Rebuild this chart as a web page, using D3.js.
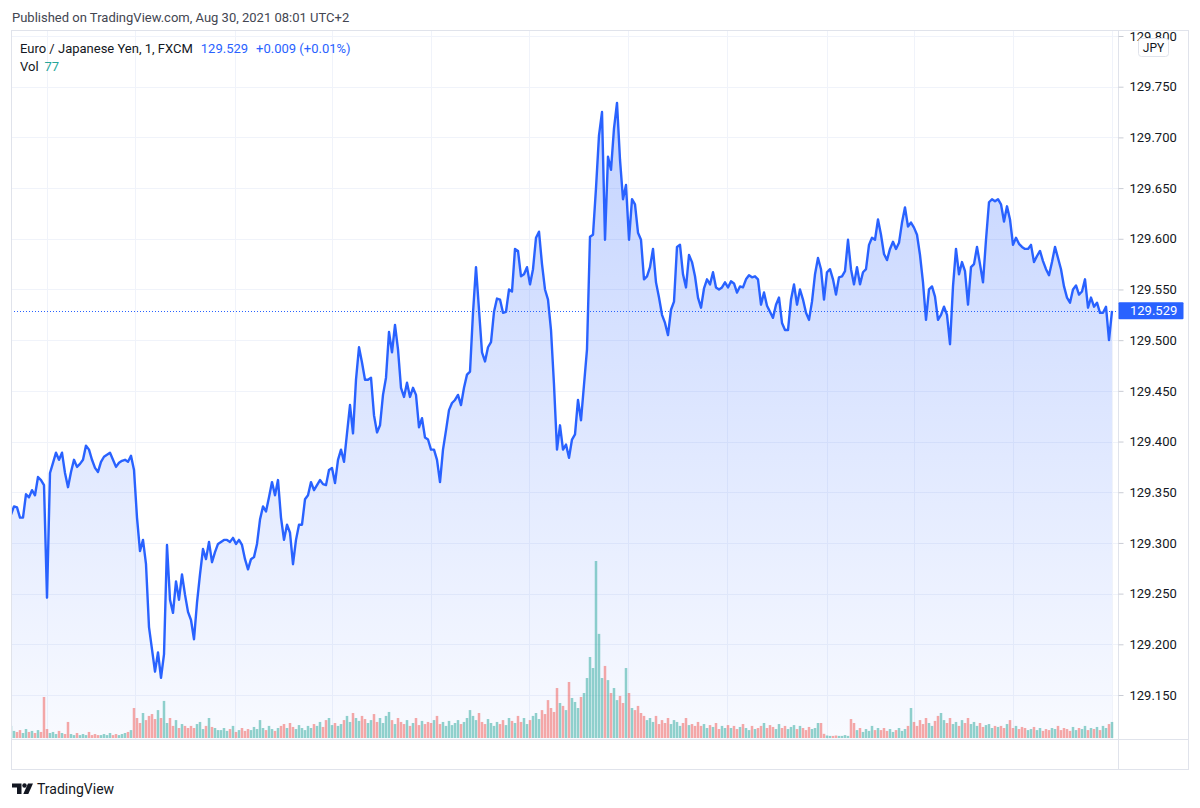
<!DOCTYPE html>
<html>
<head>
<meta charset="utf-8">
<script src="https://cdn.jsdelivr.net/npm/d3@7/dist/d3.min.js"></script>
<style>
  body { margin: 0; background: #fff; }
  svg text { font-family: "Trebuchet MS", Roboto, "Noto Sans", sans-serif; }
</style>
</head>
<body>
<div class="canvas"></div>
<script>
// EUR/JPY 1-minute closes, FXCM, sampled along the chart (one value per ~5.5 bars)
var price = [
  129.328, 129.336, 129.335, 129.325, 129.325, 129.348, 129.345, 129.352, 129.347, 129.365, 129.362, 129.357,
  129.246, 129.369, 129.379, 129.389, 129.382, 129.389, 129.369, 129.355, 129.370, 129.382, 129.375, 129.378,
  129.382, 129.396, 129.392, 129.382, 129.374, 129.370, 129.380, 129.385, 129.387, 129.389, 129.382, 129.375,
  129.379, 129.381, 129.382, 129.380, 129.386, 129.372, 129.325, 129.292, 129.303, 129.279, 129.217, 129.195,
  129.173, 129.192, 129.167, 129.190, 129.298, 129.244, 129.231, 129.262, 129.244, 129.269, 129.249, 129.232,
  129.224, 129.205, 129.241, 129.269, 129.294, 129.284, 129.301, 129.281, 129.291, 129.299, 129.301, 129.303,
  129.303, 129.301, 129.305, 129.299, 129.303, 129.298, 129.284, 129.274, 129.284, 129.286, 129.299, 129.323,
  129.336, 129.331, 129.345, 129.360, 129.347, 129.362, 129.325, 129.303, 129.318, 129.310, 129.279, 129.303,
  129.318, 129.318, 129.343, 129.347, 129.360, 129.352, 129.357, 129.362, 129.358, 129.357, 129.372, 129.374,
  129.359, 129.382, 129.392, 129.380, 129.408, 129.436, 129.408, 129.461, 129.493, 129.478, 129.461, 129.461,
  129.463, 129.426, 129.409, 129.416, 129.446, 129.463, 129.508, 129.488, 129.515, 129.491, 129.453, 129.444,
  129.458, 129.444, 129.453, 129.446, 129.414, 129.423, 129.404, 129.402, 129.392, 129.392, 129.382, 129.360,
  129.392, 129.411, 129.431, 129.438, 129.441, 129.446, 129.436, 129.453, 129.466, 129.469, 129.527, 129.572,
  129.530, 129.488, 129.479, 129.493, 129.498, 129.528, 129.541, 129.540, 129.527, 129.528, 129.550, 129.548,
  129.590, 129.588, 129.563, 129.565, 129.572, 129.555, 129.570, 129.601, 129.607, 129.575, 129.550, 129.540,
  129.510, 129.456, 129.392, 129.416, 129.392, 129.397, 129.384, 129.402, 129.407, 129.441, 129.421, 129.456,
  129.491, 129.602, 129.604, 129.650, 129.702, 129.725, 129.599, 129.681, 129.668, 129.709, 129.734, 129.678,
  129.639, 129.653, 129.599, 129.639, 129.634, 129.606, 129.599, 129.560, 129.563, 129.572, 129.590, 129.557,
  129.542, 129.525, 129.517, 129.505, 129.530, 129.538, 129.592, 129.594, 129.565, 129.552, 129.584, 129.577,
  129.563, 129.542, 129.532, 129.551, 129.560, 129.555, 129.567, 129.552, 129.550, 129.552, 129.557, 129.552,
  129.558, 129.556, 129.547, 129.553, 129.552, 129.560, 129.564, 129.562, 129.563, 129.560, 129.535, 129.547,
  129.534, 129.528, 129.522, 129.535, 129.542, 129.517, 129.510, 129.510, 129.540, 129.555, 129.535, 129.550,
  129.540, 129.527, 129.520, 129.538, 129.565, 129.581, 129.570, 129.540, 129.567, 129.570, 129.560, 129.545,
  129.562, 129.563, 129.568, 129.599, 129.570, 129.555, 129.572, 129.555, 129.567, 129.570, 129.594, 129.601,
  129.599, 129.619, 129.604, 129.585, 129.579, 129.590, 129.597, 129.590, 129.596, 129.616, 129.631, 129.612,
  129.616, 129.611, 129.604, 129.584, 129.557, 129.520, 129.550, 129.553, 129.543, 129.520, 129.525, 129.533,
  129.525, 129.496, 129.553, 129.590, 129.565, 129.577, 129.568, 129.535, 129.572, 129.575, 129.592, 129.575,
  129.557, 129.599, 129.636, 129.639, 129.637, 129.639, 129.634, 129.617, 129.632, 129.619, 129.594, 129.601,
  129.595, 129.592, 129.590, 129.590, 129.594, 129.577, 129.583, 129.588, 129.578, 129.570, 129.564, 129.577,
  129.592, 129.581, 129.570, 129.553, 129.542, 129.537, 129.550, 129.554, 129.545, 129.548, 129.560, 129.532,
  129.542, 129.533, 129.537, 129.527, 129.527, 129.533, 129.500, 129.529
];

var volume = [
  58, 34, 29, 38, 24, 43, 29, 34, 24, 38,
  29, 197, 43, 24, 29, 19, 34, 24, 19, 77,
  19, 14, 24, 14, 19, 14, 29, 14, 19, 14,
  14, 19, 14, 24, 14, 19, 14, 19, 24, 29,
  38, 144, 96, 72, 120, 86, 106, 115, 91, 134,
  96, 178, 72, 96, 58, 86, 48, 67, 58, 48,
  58, 48, 67, 77, 43, 58, 96, 53, 48, 38,
  38, 48, 34, 43, 58, 29, 38, 48, 34, 43,
  38, 53, 43, 86, 48, 38, 58, 43, 34, 48,
  58, 67, 48, 72, 53, 43, 62, 48, 38, 58,
  48, 67, 58, 77, 53, 86, 96, 62, 72, 58,
  67, 86, 106, 77, 120, 96, 82, 106, 91, 72,
  86, 115, 77, 96, 72, 106, 125, 86, 67, 96,
  77, 67, 86, 58, 72, 96, 62, 82, 67, 77,
  72, 86, 106, 67, 77, 58, 82, 62, 72, 86,
  67, 77, 96, 134, 106, 86, 120, 77, 67, 91,
  72, 58, 77, 67, 86, 62, 96, 82, 72, 106,
  77, 96, 67, 86, 106, 120, 91, 134, 115, 182,
  144, 125, 240, 168, 154, 134, 269, 192, 173, 144,
  197, 216, 288, 389, 336, 850, 500, 288, 346, 278,
  216, 240, 182, 202, 168, 336, 216, 144, 134, 154,
  120, 106, 86, 96, 77, 106, 67, 86, 72, 96,
  67, 86, 77, 58, 72, 96, 62, 67, 58, 77,
  58, 67, 48, 62, 53, 72, 43, 58, 48, 62,
  48, 58, 43, 53, 67, 48, 38, 58, 43, 48,
  58, 72, 48, 62, 53, 43, 67, 48, 58, 43,
  53, 62, 43, 58, 48, 38, 53, 43, 48, 72,
  72, 20, 12, 10, 10, 12, 10, 10, 14, 10,
  91, 72, 38, 48, 29, 43, 34, 58, 38, 48,
  38, 48, 34, 43, 29, 38, 48, 34, 43, 58,
  144, 77, 58, 86, 67, 96, 72, 58, 82, 106,
  120, 86, 72, 96, 67, 77, 58, 86, 72, 96,
  67, 77, 58, 72, 53, 62, 67, 48, 58, 53,
  58, 48, 67, 86, 48, 58, 43, 53, 48, 38,
  43, 53, 38, 48, 34, 43, 38, 48, 43, 58,
  38, 48, 43, 34, 53, 38, 48, 43, 58, 38,
  48, 43, 53, 38, 58, 48, 67, 77
];

// time scale labels and the sample they sit on
var timeLabels = ["21:00", "27", "03:00", "06:00", "09:00", "12:00", "15:00", "18:00", "29", "30", "03:00", "06:00"];
var timeTickAt = [11.9, 41.3, 74.7, 106.9, 139.9, 172.8, 205.8, 238.8, 271.9, 301.0, 333.9, 366.9];

var priceTicks = [129.15, 129.2, 129.25, 129.3, 129.35, 129.4, 129.45, 129.5, 129.55, 129.6, 129.65, 129.7, 129.75, 129.8];

var lastPrice = 129.529, change = "+0.009 (+0.01%)", lastVol = 77;

var W = 1200, H = 808;
var paneL = 11, paneR = 1118, paneT = 30, paneB = 739, frameR = 1188, frameB = 769;

var svg = d3.select(".canvas").append("svg").attr("width", W).attr("height", H);

var x = d3.scaleLinear().domain([0, price.length - 1]).range([11, 1112]);
var y = d3.scaleLinear().domain([129.15, 129.75]).range([695, 86.7]);
var vy = d3.scaleLinear().domain([0, d3.max(volume)]).range([738, 561]);

var defs = svg.append("defs");
defs.append("clipPath").attr("id", "pane")
  .append("rect").attr("x", paneL).attr("y", paneT).attr("width", paneR - paneL).attr("height", paneB - paneT);
defs.append("clipPath").attr("id", "timeaxis")
  .append("rect").attr("x", paneL).attr("y", paneB).attr("width", paneR - paneL).attr("height", frameB - paneB);
var grad = defs.append("linearGradient").attr("id", "areaFill")
  .attr("gradientUnits", "userSpaceOnUse").attr("x1", 0).attr("x2", 0).attr("y1", 100).attr("y2", paneB);
grad.append("stop").attr("offset", 0).attr("stop-color", "#2962ff").attr("stop-opacity", 0.28);
grad.append("stop").attr("offset", 1).attr("stop-color", "#2962ff").attr("stop-opacity", 0.03);

// header
svg.append("text").attr("x", 12).attr("y", 17).attr("dy", "0.35em")
  .style("font-size", "13px").style("fill", "#434651")
  .text("Published on TradingView.com, Aug 30, 2021 08:01 UTC+2");

// grid
var plot = svg.append("g").attr("clip-path", "url(#pane)");
plot.append("g").selectAll("line").data(priceTicks).enter().append("line")
  .attr("x1", paneL).attr("x2", paneR)
  .attr("y1", function(d) { return Math.round(y(d)) + 0.5; })
  .attr("y2", function(d) { return Math.round(y(d)) + 0.5; })
  .style("stroke", "#f0f3fa");
plot.append("g").selectAll("line").data(timeTickAt).enter().append("line")
  .attr("x1", function(d) { return Math.round(x(d)) + 0.5; })
  .attr("x2", function(d) { return Math.round(x(d)) + 0.5; })
  .attr("y1", paneT).attr("y2", paneB)
  .style("stroke", "#f0f3fa");

// area
var area = d3.area()
  .x(function(d, i) { return x(i); })
  .y0(paneB)
  .y1(function(d) { return y(d); });
plot.append("path").datum(price).attr("d", area).style("fill", "url(#areaFill)");

// volume
plot.append("g").selectAll("rect").data(volume).enter().append("rect")
  .attr("x", function(d, i) { return x(i) - 1.25; })
  .attr("width", 2.5)
  .attr("y", function(d) { return vy(d); })
  .attr("height", function(d) { return vy(0) - vy(d); })
  .style("fill", function(d, i) {
    return (i === 0 || price[i] >= price[i - 1]) ? "rgba(38,166,154,0.5)" : "rgba(239,83,80,0.5)";
  });

// price line
var line = d3.line()
  .x(function(d, i) { return x(i); })
  .y(function(d) { return y(d); });
plot.append("path").datum(price).attr("d", line)
  .style("fill", "none").style("stroke", "#2962ff").style("stroke-width", 2.4)
  .style("stroke-linejoin", "round");

// last price dotted line
plot.append("line")
  .attr("x1", paneL).attr("x2", paneR)
  .attr("y1", Math.round(y(lastPrice)) + 0.5).attr("y2", Math.round(y(lastPrice)) + 0.5)
  .style("stroke", "#2962ff").style("stroke-dasharray", "1,2");

// frame
svg.append("rect").attr("x", paneL + 0.5).attr("y", paneT + 0.5)
  .attr("width", frameR - paneL).attr("height", frameB - paneT)
  .style("fill", "none").style("stroke", "#e0e3eb");
svg.append("line").attr("x1", paneR + 0.5).attr("x2", paneR + 0.5).attr("y1", paneT).attr("y2", frameB)
  .style("stroke", "#e0e3eb");
svg.append("line").attr("x1", paneL).attr("x2", frameR).attr("y1", paneB + 0.5).attr("y2", paneB + 0.5)
  .style("stroke", "#e0e3eb");

// price axis
var yAxis = d3.axisRight(y).tickValues(priceTicks).tickFormat(d3.format(".3f")).tickSize(5).tickPadding(6);
var ya = svg.append("g").attr("class", "y axis").attr("transform", "translate(" + (paneR + 0.5) + ",0)").call(yAxis);
ya.select(".domain").remove();
ya.selectAll("line").style("stroke", "#c9ccd4");
ya.selectAll("text").style("font-size", "13px").style("fill", "#131722").attr("font-family", null);

// currency badge (sits over the top price label, as in the original)
svg.append("rect").attr("x", 1138.5).attr("y", 38.5).attr("width", 30).attr("height", 18).attr("rx", 3)
  .style("fill", "#fff").style("stroke", "#e0e3eb");
svg.append("text").attr("x", 1153.5).attr("y", 47.5).attr("dy", "0.35em").attr("text-anchor", "middle")
  .style("font-size", "12px").style("fill", "#131722").text("JPY");

// last price label
svg.append("rect").attr("x", paneR + 0.5).attr("y", y(lastPrice) - 8.5).attr("width", 65).attr("height", 17).attr("rx", 1)
  .style("fill", "#2962ff");
svg.append("text").attr("x", paneR + 12).attr("y", y(lastPrice)).attr("dy", "0.36em")
  .style("font-size", "13px").style("fill", "#fff").text(d3.format(".3f")(lastPrice));

// time axis
var xAxis = d3.axisBottom(x).tickValues(timeTickAt)
  .tickFormat(function(d, i) { return timeLabels[i]; }).tickSize(0).tickPadding(9);
var xa = svg.append("g").attr("class", "x axis").attr("clip-path", "url(#timeaxis)")
  .attr("transform", "translate(0," + paneB + ")").call(xAxis);
xa.select(".domain").remove();
xa.selectAll("text").style("font-size", "13px").style("fill", "#131722").attr("font-family", null)
  .style("font-weight", function(d, i) { return timeLabels[i] === "30" ? "bold" : "normal"; });

// legend
var leg = svg.append("text").attr("x", 20).attr("y", 48).attr("dy", "0.35em").style("font-size", "13px");
leg.append("tspan").style("fill", "#131722").text("Euro / Japanese Yen, 1, FXCM");
leg.append("tspan").attr("dx", 8).style("fill", "#2962ff").text(d3.format(".3f")(lastPrice));
leg.append("tspan").attr("dx", 8).style("fill", "#2962ff").text(change);
var leg2 = svg.append("text").attr("x", 20).attr("y", 66).attr("dy", "0.35em").style("font-size", "13px");
leg2.append("tspan").style("fill", "#131722").text("Vol");
leg2.append("tspan").attr("dx", 6).style("fill", "#26a69a").text(lastVol);

// footer logo
var logo = svg.append("g").style("fill", "#131722");
logo.append("path").attr("d", "M12,783.5 H21.5 V794 H17 V787.5 H12 Z");
logo.append("circle").attr("cx", 24.5).attr("cy", 785.5).attr("r", 2.2);
logo.append("path").attr("d", "M28,783.5 H33 L28.3,794 H23.3 Z");
svg.append("text").attr("x", 37).attr("y", 789).attr("dy", "0.35em")
  .style("font-size", "14px").style("fill", "#131722").text("TradingView");
</script>
</body>
</html>
